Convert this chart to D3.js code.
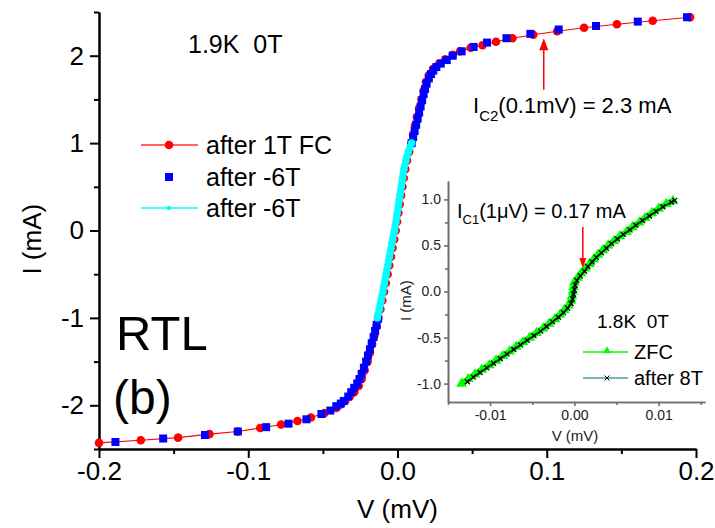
<!DOCTYPE html>
<html>
<head>
<meta charset="utf-8">
<script src="https://cdn.jsdelivr.net/npm/d3@7"></script>
<style>
  html, body { margin: 0; padding: 0; background: #fff; }
  svg { display: block; font-family: "Liberation Sans", Arial, sans-serif; }
  text { white-space: pre; }
</style>
</head>
<body>
<svg id="chart" width="715" height="528"></svg>
<script>
// ---------------- DATA ----------------
// Main panel: I-V curves (V in mV, I in mA)
const fc1TV = [-0.200,-0.172,-0.147,-0.126,-0.107,-0.092,-0.078,-0.067,-0.058,-0.049,-0.041,-0.038,-0.035,-0.032,-0.029,-0.026,-0.024,-0.022,-0.020,-0.0185,-0.017,-0.0155,-0.014,-0.0128,-0.0115,-0.0102,-0.009,-0.0078,-0.0066,-0.0055,-0.0044,-0.0033,-0.0022,-0.0012,-0.0003,0.0006,0.0015,0.0024,0.0033,0.0042,0.0052,0.0064,0.0078,0.0093,0.0105,0.0117,0.013,0.0145,0.016,0.0175,0.019,0.021,0.024,0.028,0.032,0.037,0.042,0.049,0.057,0.066,0.077,0.091,0.107,0.125,0.147,0.171,0.196];
const fc1TI = [-2.43,-2.40,-2.37,-2.33,-2.30,-2.26,-2.22,-2.18,-2.14,-2.09,-2.03,-1.99,-1.95,-1.90,-1.85,-1.78,-1.70,-1.60,-1.50,-1.40,-1.30,-1.20,-1.10,-1.00,-0.90,-0.80,-0.70,-0.60,-0.50,-0.40,-0.30,-0.20,-0.10,0.00,0.10,0.20,0.30,0.40,0.50,0.60,0.70,0.80,0.90,1.00,1.10,1.20,1.30,1.40,1.50,1.60,1.70,1.78,1.85,1.91,1.96,2.01,2.05,2.09,2.12,2.16,2.20,2.24,2.28,2.32,2.36,2.40,2.44];

const m6TV = [-0.189,-0.157,-0.129,-0.107,-0.088,-0.073,-0.061,-0.051,-0.045,-0.041,-0.038,-0.036,-0.033,-0.031,-0.029,-0.027,-0.0255,-0.024,-0.0225,-0.021,-0.0198,-0.0185,-0.0173,-0.016,-0.015,-0.014,-0.013,0.0095,0.0105,0.0115,0.0125,0.0135,0.0145,0.0155,0.0165,0.0175,0.0185,0.0195,0.021,0.0225,0.024,0.026,0.029,0.033,0.037,0.043,0.051,0.060,0.073,0.089,0.108,0.133,0.161,0.194];
const m6TI = [-2.42,-2.38,-2.34,-2.30,-2.25,-2.21,-2.16,-2.10,-2.06,-2.01,-1.98,-1.95,-1.90,-1.85,-1.80,-1.75,-1.70,-1.64,-1.57,-1.50,-1.43,-1.36,-1.29,-1.22,-1.15,-1.08,-1.01,1.00,1.07,1.14,1.21,1.28,1.35,1.42,1.49,1.56,1.62,1.68,1.74,1.79,1.83,1.87,1.91,1.95,2.00,2.05,2.10,2.15,2.20,2.25,2.30,2.34,2.39,2.44];

const m6TbV = [-0.0135,-0.0128,-0.0122,-0.0116,-0.0110,-0.0104,-0.0098,-0.0093,-0.0087,-0.0082,-0.0076,-0.0071,-0.0065,-0.0060,-0.0054,-0.0049,-0.0043,-0.0038,-0.0032,-0.0026,-0.0020,-0.0015,-0.0010,-0.0006,-0.0002,0.0003,0.0007,0.0012,0.0016,0.0021,0.0025,0.0030,0.0034,0.0038,0.0043,0.0049,0.0056,0.0064,0.0073,0.0084,0.0095];
const m6TbI = [-1.00,-0.95,-0.90,-0.85,-0.80,-0.75,-0.70,-0.65,-0.60,-0.55,-0.50,-0.45,-0.40,-0.35,-0.30,-0.25,-0.20,-0.15,-0.10,-0.05,0.00,0.05,0.10,0.15,0.20,0.25,0.30,0.35,0.40,0.45,0.50,0.55,0.60,0.65,0.70,0.75,0.80,0.85,0.90,0.95,1.00];

// Inset: I-V at 1.8K (V in mV, I in mA)
const zfcV = [-0.0134,-0.0126,-0.0118,-0.0110,-0.0101,-0.0093,-0.0085,-0.0077,-0.0069,-0.0061,-0.0053,-0.0045,-0.0037,-0.0030,-0.0023,-0.0017,-0.0012,-0.0007,-0.0004,-0.0003,-0.0002,-0.0001,0.0000,0.0004,0.0008,0.0013,0.0018,0.0023,0.0028,0.0034,0.0040,0.0047,0.0054,0.0062,0.0069,0.0077,0.0084,0.0092,0.0100,0.0109,0.0117];
const zfcI = [-1.00,-0.95,-0.90,-0.85,-0.80,-0.75,-0.70,-0.65,-0.60,-0.55,-0.50,-0.45,-0.40,-0.35,-0.30,-0.25,-0.20,-0.15,-0.10,-0.05,0.00,0.05,0.10,0.15,0.20,0.25,0.30,0.35,0.40,0.45,0.50,0.55,0.60,0.65,0.70,0.75,0.80,0.85,0.90,0.95,0.98];

const a8TV = [-0.0127,-0.0120,-0.0112,-0.0104,-0.0096,-0.0088,-0.0080,-0.0072,-0.0064,-0.0056,-0.0048,-0.0040,-0.0033,-0.0026,-0.0019,-0.0013,-0.0008,-0.0004,-0.0002,-0.0001,0.0000,0.0001,0.0003,0.0007,0.0012,0.0016,0.0021,0.0026,0.0032,0.0038,0.0044,0.0051,0.0058,0.0066,0.0073,0.0081,0.0089,0.0097,0.0105,0.0115,0.0119];
const a8TI = [-0.98,-0.93,-0.88,-0.83,-0.78,-0.73,-0.68,-0.63,-0.58,-0.53,-0.48,-0.43,-0.38,-0.33,-0.28,-0.23,-0.18,-0.13,-0.08,-0.03,0.02,0.07,0.12,0.17,0.22,0.27,0.32,0.37,0.42,0.47,0.52,0.57,0.62,0.67,0.72,0.77,0.82,0.87,0.92,0.97,0.99];

// Ticks
const mainXTicks = [-0.2,-0.1,0,0.1,0.2];
const mainXTickLabels = ["-0.2","-0.1","0.0","0.1","0.2"];
const mainXMinor = [-0.15,-0.05,0.05,0.15];
const mainYTicks = [-2,-1,0,1,2];
const mainYTickLabels = ["-2","-1","0","1","2"];
const mainYMinor = [-2.5,-1.5,-0.5,0.5,1.5,2.5];
const insetXTicks = [-0.01,0,0.01];
const insetXTickLabels = ["-0.01","0.00","0.01"];
const insetXMinor = [-0.015,-0.005,0.005,0.015];
const insetYTicks = [-1,-0.5,0,0.5,1];
const insetYTickLabels = ["-1.0","-0.5","0.0","0.5","1.0"];
const insetYMinor = [-0.75,-0.25,0.25,0.75];

// Labels / legends
const mainLegend = ["after 1T FC","after -6T","after -6T"];
const insetLegend = ["ZFC","after 8T"];
// Annotation arrows (data units): [V, I_from, I_to]
const ic2Arrow = [0.098, 1.61, 2.20];
const ic1Arrow = [0.0010, 0.70, 0.255];

// ---------------- DRAWING ----------------
const svg = d3.select("#chart");
const FONT = '"Liberation Sans", Arial, sans-serif';

// Main scales
const x = d3.scaleLinear().domain([-0.2, 0.2]).range([99, 696]);
const y = d3.scaleLinear().domain([-2.5, 2.5]).range([449, 12]);

function styleAxis(g, color, w, fs) {
  g.select(".domain").attr("stroke", color).attr("stroke-width", w);
  g.selectAll(".tick line").attr("stroke", color).attr("stroke-width", w);
  g.selectAll(".tick text").attr("fill", "#000").attr("font-size", fs).attr("font-family", FONT);
}
const gx = svg.append("g").attr("transform", `translate(0,${y(-2.5)})`)
  .call(d3.axisBottom(x).tickValues(mainXTicks).tickFormat((d,i)=>mainXTickLabels[i]).tickSize(9).tickPadding(4).tickSizeOuter(0));
styleAxis(gx, "#000", 2, 26);
const gxm = svg.append("g").attr("transform", `translate(0,${y(-2.5)})`)
  .call(d3.axisBottom(x).tickValues(mainXMinor).tickFormat("").tickSize(5).tickSizeOuter(0));
styleAxis(gxm, "#000", 2, 26);
const gy = svg.append("g").attr("transform", `translate(${x(-0.2)},0)`)
  .call(d3.axisLeft(y).tickValues(mainYTicks).tickFormat((d,i)=>mainYTickLabels[i]).tickSize(9).tickPadding(6).tickSizeOuter(0));
styleAxis(gy, "#000", 2, 26);
const gym = svg.append("g").attr("transform", `translate(${x(-0.2)},0)`)
  .call(d3.axisLeft(y).tickValues(mainYMinor).tickFormat("").tickSize(5).tickSizeOuter(0));
styleAxis(gym, "#000", 2, 26);

// Axis titles
svg.append("text").attr("x", (x(-0.2)+x(0.2))/2).attr("y", 518).attr("text-anchor","middle")
  .attr("font-size", 26).attr("font-family", FONT).text("V (mV)");
svg.append("text").attr("transform", `translate(41,${y(-0.1)}) rotate(-90)`).attr("text-anchor","middle")
  .attr("font-size", 26).attr("font-family", FONT).text("I (mA)");

// Series
const line = d3.line().x(d=>x(d[0])).y(d=>y(d[1]));
const redData = fc1TV.map((v,i)=>[v, fc1TI[i]]);
const blueData = m6TV.map((v,i)=>[v, m6TI[i]]);
const cyanData = m6TbV.map((v,i)=>[v, m6TbI[i]]);

svg.append("path").datum(redData).attr("d", line).attr("fill","none").attr("stroke","#ff0000").attr("stroke-width",1.2);
svg.append("g").selectAll("circle").data(redData).join("circle")
  .attr("cx", d=>x(d[0])).attr("cy", d=>y(d[1])).attr("r", 4.3).attr("fill", "#ff0000");
svg.append("g").selectAll("rect").data(blueData).join("rect")
  .attr("x", d=>x(d[0])-4).attr("y", d=>y(d[1])-4).attr("width", 8).attr("height", 8).attr("fill", "#0000ff");
svg.append("path").datum(cyanData).attr("d", line).attr("fill","none").attr("stroke","#00ffff").attr("stroke-width",1.5);
svg.append("g").selectAll("circle").data(cyanData).join("circle")
  .attr("cx", d=>x(d[0])).attr("cy", d=>y(d[1])).attr("r", 3.8).attr("fill", "#00ffff");

// Main legend
const lg = svg.append("g").attr("font-family", FONT).attr("font-size", 25);
const legRows = [145, 177, 208];
lg.append("line").attr("x1",141).attr("x2",198).attr("y1",legRows[0]).attr("y2",legRows[0]).attr("stroke","#ff3030").attr("stroke-width",1.5);
lg.append("circle").attr("cx",169).attr("cy",legRows[0]).attr("r",4.3).attr("fill","#ff0000");
lg.append("rect").attr("x",165).attr("y",legRows[1]-4).attr("width",8).attr("height",8).attr("fill","#0000ff");
lg.append("line").attr("x1",141).attr("x2",198).attr("y1",legRows[2]).attr("y2",legRows[2]).attr("stroke","#00ffff").attr("stroke-width",1.5);
lg.append("circle").attr("cx",169).attr("cy",legRows[2]).attr("r",2.2).attr("fill","#00ffff");
mainLegend.forEach((t,i)=>{
  lg.append("text").attr("x",206).attr("y",legRows[i]+9).text(t);
});

// Main texts
svg.append("text").attr("x",188).attr("y",53).attr("font-size",25).attr("font-family",FONT).text("1.9K  0T");
svg.append("text").attr("x",116).attr("y",350).attr("font-size",49).attr("font-family",FONT).text("RTL");
svg.append("text").attr("x",113).attr("y",414).attr("font-size",48).attr("font-family",FONT).text("(b)");

// IC2 annotation
const t2 = svg.append("text").attr("x",473).attr("y",113).attr("font-size",22).attr("font-family",FONT);
t2.append("tspan").text("I");
t2.append("tspan").attr("font-size",15).attr("dy",8).text("C2");
t2.append("tspan").attr("dy",-8).text("(0.1mV) = 2.3 mA");
function arrow(x0, yFrom, yTo, head, halfW) {
  const dir = Math.sign(yTo - yFrom);
  svg.append("line").attr("x1",x0).attr("x2",x0).attr("y1",yFrom).attr("y2",yTo - dir*head*0.6)
    .attr("stroke","#ff0000").attr("stroke-width",1.5);
  svg.append("path").attr("d", `M${x0},${yTo} L${x0-halfW},${yTo - dir*head} L${x0+halfW},${yTo - dir*head} Z`).attr("fill","#ff0000");
}

// ---------------- INSET ----------------
const xi = d3.scaleLinear().domain([-0.015, 0.0155]).range([448, 705]);
const yi = d3.scaleLinear().domain([-1.2, 1.2]).range([402, 181]);
const ICOL = "#6e6e6e";
const gix = svg.append("g").attr("transform", `translate(0,${yi(-1.2)})`)
  .call(d3.axisBottom(xi).tickValues(insetXTicks).tickFormat((d,i)=>insetXTickLabels[i]).tickSize(4).tickPadding(4).tickSizeOuter(0));
styleAxis(gix, ICOL, 1.6, 14);
const gixm = svg.append("g").attr("transform", `translate(0,${yi(-1.2)})`)
  .call(d3.axisBottom(xi).tickValues(insetXMinor).tickFormat("").tickSize(3).tickSizeOuter(0));
styleAxis(gixm, ICOL, 1.6, 14);
const giy = svg.append("g").attr("transform", `translate(${xi(-0.015)},0)`)
  .call(d3.axisLeft(yi).tickValues(insetYTicks).tickFormat((d,i)=>insetYTickLabels[i]).tickSize(4).tickPadding(3).tickSizeOuter(0));
styleAxis(giy, ICOL, 1.6, 14);
const giym = svg.append("g").attr("transform", `translate(${xi(-0.015)},0)`)
  .call(d3.axisLeft(yi).tickValues(insetYMinor).tickFormat("").tickSize(3).tickSizeOuter(0));
styleAxis(giym, ICOL, 1.6, 14);
gix.selectAll(".tick text").attr("fill","#222");
giy.selectAll(".tick text").attr("fill","#222");

svg.append("text").attr("x",575).attr("y",441).attr("text-anchor","middle").attr("font-size",15).attr("font-family",FONT).attr("fill","#222").text("V (mV)");
svg.append("text").attr("transform",`translate(411,${yi(-0.1)}) rotate(-90)`).attr("text-anchor","middle").attr("font-size",15).attr("font-family",FONT).attr("fill","#222").text("I (mA)");

const linei = d3.line().x(d=>xi(d[0])).y(d=>yi(d[1]));
const zfcData = zfcV.map((v,i)=>[v, zfcI[i]]);
const a8Data = a8TV.map((v,i)=>[v, a8TI[i]]);
const tri = d3.symbol().type(d3.symbolTriangle).size(50);
const tri2 = d3.symbol().type(d3.symbolTriangle).size(28);
const cross = d3.symbol().type(d3.symbolX).size(18);

svg.append("path").datum(zfcData).attr("d", linei).attr("fill","none").attr("stroke","#00ff00").attr("stroke-width",6).attr("stroke-linejoin","round");
svg.append("g").selectAll("path").data(zfcData).join("path")
  .attr("transform", d=>`translate(${xi(d[0])},${yi(d[1])})`).attr("d", tri).attr("fill","#00ff00");
svg.append("path").datum(a8Data).attr("d", linei).attr("fill","none").attr("stroke","#1a2e30").attr("stroke-width",1.8);
svg.append("g").selectAll("path").data(a8Data).join("path")
  .attr("transform", d=>`translate(${xi(d[0])},${yi(d[1])})`).attr("d", cross).attr("fill","none").attr("stroke","#000").attr("stroke-width",1.2);

// Inset legend
svg.append("text").attr("x",597).attr("y",328).attr("font-size",19).attr("font-family",FONT).text("1.8K  0T");
const ilRows = [352, 378];
svg.append("line").attr("x1",583).attr("x2",628).attr("y1",ilRows[0]).attr("y2",ilRows[0]).attr("stroke","#00ff00").attr("stroke-width",1.5);
svg.append("path").attr("transform",`translate(607,${ilRows[0]-1})`).attr("d",tri2).attr("fill","#00ff00");
svg.append("line").attr("x1",583).attr("x2",628).attr("y1",ilRows[1]).attr("y2",ilRows[1]).attr("stroke","#4a9aa6").attr("stroke-width",1.5);
svg.append("path").attr("transform",`translate(607,${ilRows[1]})`).attr("d",cross).attr("fill","none").attr("stroke","#000").attr("stroke-width",1);
insetLegend.forEach((t,i)=>{
  svg.append("text").attr("x",634).attr("y",ilRows[i]+7).attr("font-size",20).attr("font-family",FONT).text(t);
});

// IC1 annotation
const t1 = svg.append("text").attr("x",457).attr("y",218).attr("font-size",20).attr("font-family",FONT);
t1.append("tspan").text("I");
t1.append("tspan").attr("font-size",13).attr("dy",6).text("C1");
t1.append("tspan").attr("dy",-6).text("(1\u03BCV) = 0.17 mA");

// arrows
arrow(x(ic2Arrow[0]), y(ic2Arrow[1]), y(ic2Arrow[2]), 12, 4.5);
arrow(xi(ic1Arrow[0]), yi(ic1Arrow[1]), yi(ic1Arrow[2]), 10, 3.5);
</script>
</body>
</html>
